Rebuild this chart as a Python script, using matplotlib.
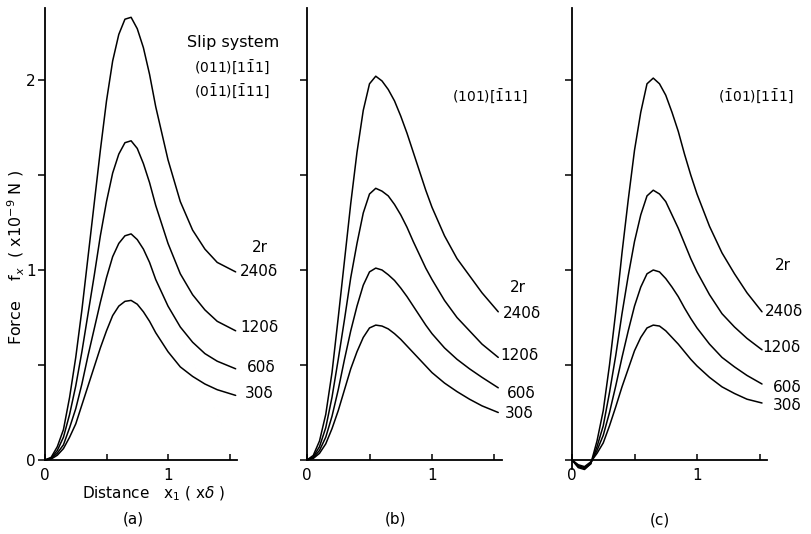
import numpy as np
from matplotlib import pyplot as plt

W, H = 811, 534

# x grids (distance, x delta)
xa = [0, 0.05, 0.1, 0.15, 0.2, 0.25, 0.3, 0.35, 0.4, 0.45, 0.5, 0.55, 0.6, 0.65, 0.7,
      0.75, 0.8, 0.85, 0.9, 0.95, 1.0, 1.1, 1.2, 1.3, 1.4, 1.55]
xb = xa[:-1] + [1.53]
xc = xa[:-1] + [1.52]

r_labels = ["240δ", "120δ", "60δ", "30δ"]

# (a) slip system (011)[1-11], (0-11)[-111]
fa_240 = [0, 0.014, 0.07, 0.16, 0.33, 0.54, 0.79, 1.07, 1.35, 1.63, 1.89, 2.10, 2.24, 2.32, 2.33,
          2.27, 2.17, 2.03, 1.86, 1.72, 1.58, 1.36, 1.21, 1.11, 1.04, 0.99]
fa_120 = [0, 0.01, 0.05, 0.12, 0.24, 0.39, 0.57, 0.77, 0.97, 1.18, 1.36, 1.51, 1.61, 1.67, 1.68,
          1.64, 1.56, 1.46, 1.34, 1.24, 1.14, 0.98, 0.87, 0.79, 0.73, 0.68]
fa_60 = [0, 0.007, 0.036, 0.08, 0.17, 0.27, 0.40, 0.55, 0.69, 0.83, 0.96, 1.07, 1.14, 1.18, 1.19,
         1.16, 1.11, 1.04, 0.95, 0.88, 0.81, 0.70, 0.62, 0.56, 0.52, 0.48]
fa_30 = [0, 0.005, 0.025, 0.06, 0.12, 0.19, 0.29, 0.39, 0.49, 0.59, 0.68, 0.76, 0.81, 0.835, 0.84,
         0.82, 0.78, 0.73, 0.67, 0.62, 0.57, 0.49, 0.44, 0.40, 0.37, 0.34]

# (b) (101)[-111]
fb_240 = [0, 0.024, 0.10, 0.24, 0.46, 0.75, 1.05, 1.35, 1.62, 1.84, 1.98, 2.02, 1.995, 1.95, 1.89,
          1.81, 1.72, 1.62, 1.52, 1.42, 1.33, 1.18, 1.06, 0.97, 0.88, 0.78]
fb_120 = [0, 0.017, 0.07, 0.17, 0.33, 0.53, 0.74, 0.96, 1.14, 1.30, 1.40, 1.43, 1.415, 1.39, 1.345,
          1.29, 1.225, 1.15, 1.08, 1.01, 0.95, 0.84, 0.75, 0.68, 0.61, 0.54]
fb_60 = [0, 0.012, 0.05, 0.12, 0.23, 0.37, 0.53, 0.68, 0.81, 0.92, 0.99, 1.01, 1.00, 0.975, 0.945,
         0.905, 0.86, 0.81, 0.76, 0.71, 0.665, 0.59, 0.53, 0.48, 0.435, 0.38]
fb_30 = [0, 0.008, 0.035, 0.085, 0.165, 0.26, 0.37, 0.48, 0.57, 0.645, 0.695, 0.71, 0.705, 0.69, 0.665,
         0.635, 0.60, 0.565, 0.53, 0.495, 0.46, 0.405, 0.36, 0.32, 0.285, 0.25]

# (c) (-101)[1-11]
fc_240 = [0, -0.04, -0.05, -0.02, 0.10, 0.26, 0.50, 0.78, 1.09, 1.37, 1.63, 1.83, 1.98, 2.01, 1.98,
          1.92, 1.83, 1.73, 1.61, 1.50, 1.40, 1.23, 1.09, 0.98, 0.88, 0.78]
fc_120 = [0, -0.035, -0.045, -0.02, 0.07, 0.18, 0.355, 0.55, 0.77, 0.97, 1.15, 1.29, 1.39, 1.42, 1.40,
          1.36, 1.29, 1.22, 1.14, 1.06, 0.99, 0.87, 0.77, 0.70, 0.64, 0.58]
fc_60 = [0, -0.03, -0.04, -0.015, 0.05, 0.13, 0.25, 0.39, 0.54, 0.68, 0.81, 0.91, 0.98, 1.0, 0.99,
         0.955, 0.91, 0.86, 0.80, 0.745, 0.695, 0.61, 0.54, 0.49, 0.445, 0.40]
fc_30 = [0, -0.025, -0.035, -0.01, 0.035, 0.09, 0.18, 0.28, 0.385, 0.48, 0.575, 0.645, 0.695, 0.71, 0.705,
         0.68, 0.645, 0.61, 0.57, 0.53, 0.495, 0.435, 0.385, 0.35, 0.32, 0.30]

panels = [
    (xa, [fa_240, fa_120, fa_60, fa_30]),
    (xb, [fb_240, fb_120, fb_60, fb_30]),
    (xc, [fc_240, fc_120, fc_60, fc_30]),
]

plt.rcParams['font.family'] = ['DejaVu Sans']
fig = plt.figure(figsize=(W / 100, H / 100), dpi=100)


def px_text(x, y, s, **kw):
    kw.setdefault('fontsize', 11)
    kw.setdefault('va', 'center')
    fig.text(x / W, 1 - y / H, s, **kw)


# axes boxes in pixels: left x of y-axis, pixels per unit x
y0_px, y_unit = 460, 190
y_top, y_bot = 2.38, -0.08
boxes = [(45, 123), (307, 125), (572, 125)]
x_max = 1.56

axes = []
for (left, unit), (xs, curves) in zip(boxes, panels):
    bottom_px = y0_px - y_bot * y_unit
    top_px = y0_px - y_top * y_unit
    ax = fig.add_axes([left / W, 1 - bottom_px / H, x_max * unit / W, (bottom_px - top_px) / H])
    for f in curves:
        ax.plot(xs, f, color='black', lw=1.1, solid_capstyle='round', solid_joinstyle='round')
    ax.set_xlim(0, x_max)
    ax.set_ylim(y_bot, y_top)
    for s in ['top', 'right']:
        ax.spines[s].set_visible(False)
    ax.spines['bottom'].set_position(('data', 0))
    ax.spines['left'].set_bounds(min(0, min(curves[0])), y_top)
    ax.spines['left'].set_linewidth(1.3)
    ax.spines['bottom'].set_linewidth(1.3)
    ax.set_yticks([0, 1, 2])
    ax.set_yticks([0.5, 1.5], minor=True)
    ax.set_xticks([0, 1])
    ax.set_xticks([0.5, 1.5], minor=True)
    ax.tick_params(axis='y', which='both', direction='out', length=5, width=1.1, pad=1.5)
    ax.tick_params(axis='x', which='both', direction='in', length=4, width=1.1, pad=6)
    ax.tick_params(axis='both', labelsize=11)
    ax.patch.set_visible(False)
    axes.append(ax)

axes[1].set_yticklabels([])
axes[2].set_yticklabels([])

# axis titles
px_text(16, 258, "Force    f$_x$  ( x10$^{-9}$ N )", rotation=90, ha='center', fontsize=11.5)
px_text(82, 494, "Distance   x$_1$ ( x$\\delta$ )", ha='left', fontsize=11)
px_text(133, 519, "(a)", ha='center')
px_text(395, 519, "(b)", ha='center')
px_text(660, 520, "(c)", ha='center')

# slip systems
px_text(233, 42, "Slip system", ha='center', fontsize=11.5)
px_text(232, 68, "(011)[1$\\bar{1}$1]", ha='center', fontsize=10)
px_text(232, 92, "(0$\\bar{1}$1)[$\\bar{1}$11]", ha='center', fontsize=10)
px_text(490, 97, "(101)[$\\bar{1}$11]", ha='center', fontsize=10)
px_text(756, 97, "($\\bar{1}$01)[1$\\bar{1}$1]", ha='center', fontsize=10)

# curve labels
label_pos = [
    [(252, 248), (240, 272), (240, 327), (247, 367), (245, 393)],
    [(510, 288), (503, 313), (500, 355), (507, 393), (505, 413)],
    [(775, 265), (765, 312), (762, 347), (773, 387), (773, 405)],
]
for pos in label_pos:
    px_text(pos[0][0], pos[0][1], "2r", ha='left', fontsize=11)
    for (x, y), s in zip(pos[1:], r_labels):
        px_text(x, y, s, ha='left', fontsize=11)

fig.savefig("out.png", dpi=100)
